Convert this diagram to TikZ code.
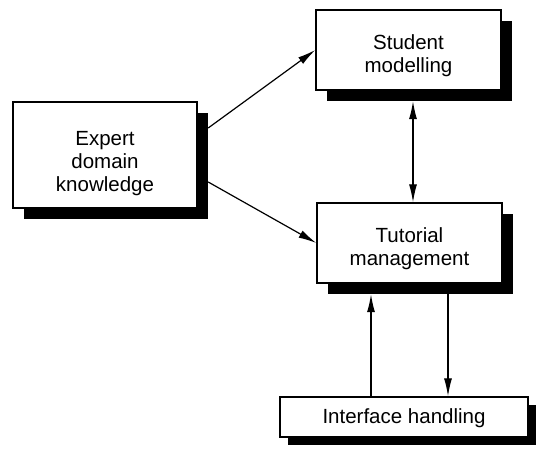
\documentclass[tikz,border=0pt]{standalone}
\usepackage{fontspec}
\setmainfont{Liberation Sans}
\usetikzlibrary{arrows.meta}
\begin{document}
\begin{tikzpicture}[x=1pt,y=-1pt,
        box/.style={draw,line width=1.4pt,fill=white,align=center,inner sep=0pt,text depth=5pt,font=\fontsize{20.5}{23}\selectfont},
        shade/.style={fill=black,inner sep=0pt},
        link/.style={line width=1.2pt,-{Latex[length=18pt,width=8pt]}}]
        \useasboundingbox (0,0) rectangle (536,457);
        \foreach \name/\x/\y/\w/\h/\d in {expert/105/155/184/106/11, student/408.5/50/185/80/11, tutorial/409.5/243/185/80/11, interface/404/417/248/40/8} {
            \node[shade,minimum width=\w pt,minimum height=\h pt] (\name-sh) at (\x+\d,\y+\d) {};
        }
        \node[box,minimum width=184pt,minimum height=106pt,text height=79pt] (expert) at (105,155) {Expert\\domain\\knowledge};
        \node[box,minimum width=185pt,minimum height=80pt,text height=50pt] (student) at (408.5,50) {Student\\modelling};
        \node[box,minimum width=185pt,minimum height=80pt,text height=50pt] (tutorial) at (409.5,243) {Tutorial\\management};
        \node[box,minimum width=248pt,minimum height=40pt,text height=17pt] (interface) at (404,417) {Interface handling};
        \draw[link] ([yshift=38pt]expert-sh.east) -- (student.west);
        \draw[link] ([yshift=-16pt]expert-sh.east) -- (tutorial.west);
        \draw[link,{Latex[length=18pt,width=8pt]}-{Latex[length=18pt,width=8pt]}] ([xshift=-6.5pt]student-sh.south) -- ([xshift=3.5pt]tutorial.north);
        \draw[link] ([xshift=-33pt]interface.north) -- ([xshift=-49.5pt]tutorial-sh.south);
        \draw[link] ([xshift=27.5pt]tutorial-sh.south) -- ([xshift=44pt]interface.north);
    \end{tikzpicture}
\end{document}
